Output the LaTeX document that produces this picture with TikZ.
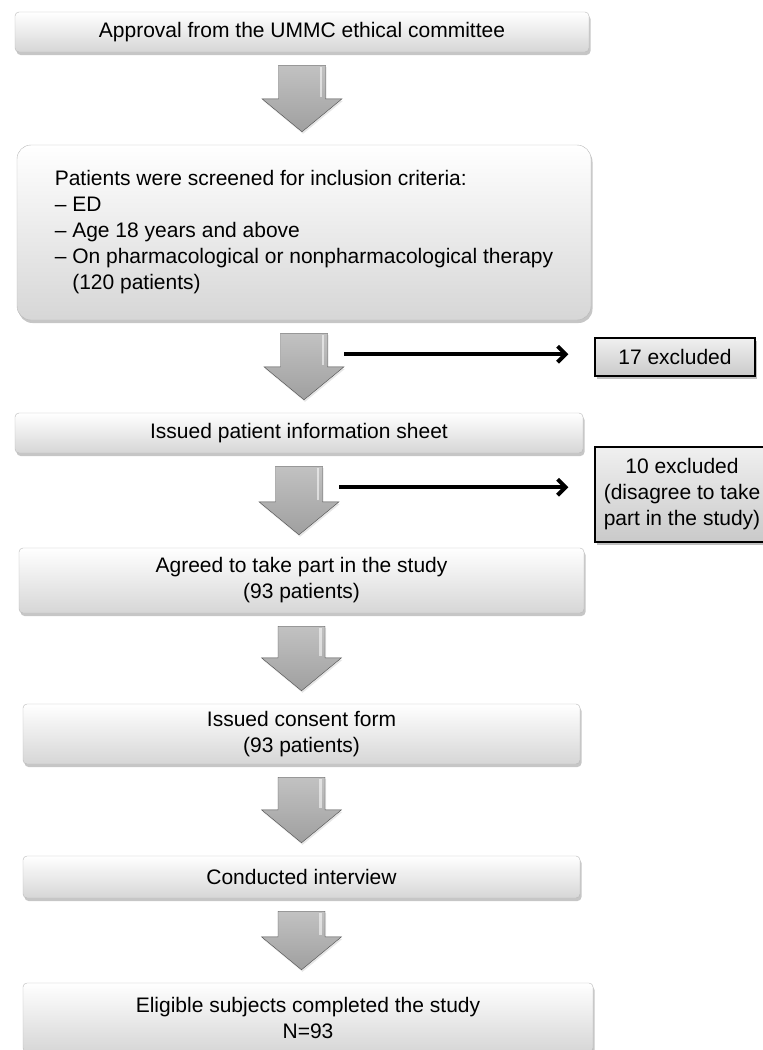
\documentclass[tikz,border=0pt]{standalone}
\usepackage{fontspec}
\setmainfont{Liberation Sans}
\usepackage{tikz}
\usetikzlibrary{arrows.meta,calc,shadows}

% grey block arrow between two boxes, #3 names its coordinates
\newcommand\blockdown[3]{%
  \coordinate (#3-top) at ($(#1.south)+(0,13)$);
  \coordinate (#3-tip) at ($(#1.south |- #2.north)+(0,-13)$);
  \path[blockarrow] ($(#3-top)+(-23.5,0)$) -- ($(#3-top)+(23.5,0)$)
    -- ($(#3-tip)+(23.5,-33)$) -- ($(#3-tip)+(40,-33)$) -- (#3-tip)
    -- ($(#3-tip)+(-40,-33)$) -- ($(#3-tip)+(-23.5,-33)$) -- cycle;
  \draw[white, opacity=.55, line width=2.5pt] ($(#3-top)+(19,2)$) -- ($(#3-tip)+(19,-35)$);
  \coordinate (#3-out) at ($(#3-top)+(40,21)$);
}

\begin{document}
\begin{tikzpicture}[x=1pt, y=-1pt,
  txt/.style={font=\fontsize{21}{26}\selectfont, align=center, inner sep=0pt},
  box/.style={txt, draw=gray!55, rounded corners=4pt, top color=white, bottom color=gray!32,
    drop shadow={shadow xshift=1.5pt, shadow yshift=-3pt, opacity=.45}},
  exbox/.style={txt, draw=black, line width=1.2pt, top color=gray!12, bottom color=gray!42,
    drop shadow={shadow xshift=2pt, shadow yshift=-2.5pt, opacity=.5}},
  blockarrow/.style={draw=gray!60!black, line width=.4pt, top color=gray!48, bottom color=gray!75,
    drop shadow={shadow xshift=1pt, shadow yshift=-2pt, opacity=.2}},
  exarrow/.style={line width=4pt, -{Straight Barb[length=8pt,width=16pt,line width=4pt]}, shorten >=26pt},
]
\useasboundingbox (0,0) rectangle (763,1050);

\node[box, minimum width=574pt, minimum height=40pt] (b1) at (302,32) {Approval from the UMMC ethical committee};
\node[box, rounded corners=14pt, align=left, minimum width=574pt, minimum height=175pt] (b2) at (304,232.5)
  {Patients were screened for inclusion criteria:\\– ED\\– Age 18 years and above\\– On pharmacological or nonpharmacological therapy\\\phantom{– }(120 patients)};
\node[box, minimum width=568pt, minimum height=40pt] (b3) at (299,433) {Issued patient information sheet};
\node[box, minimum width=565pt, minimum height=65pt] (b4) at (301.5,580.5) {Agreed to take part in the study\\(93 patients)};
\node[box, minimum width=557pt, minimum height=60pt] (b5) at (301.5,734) {Issued consent form\\(93 patients)};
\node[box, minimum width=557pt, minimum height=42pt] (b6) at (301.5,877) {Conducted interview};
\node[box, minimum width=570pt, minimum height=69pt] (b7) at (308,1017.5) {Eligible subjects completed the study\\N=93};

\node[exbox, minimum width=160pt, minimum height=38pt] (ex1) at (675,357) {17 excluded};
\node[exbox, minimum width=174pt, minimum height=95pt] (ex2) at (682,494.5) {10 excluded\\(disagree to take\\part in the study)};

\blockdown{b1}{b2}{a1}
\blockdown{b2}{b3}{a2}
\blockdown{b3}{b4}{a3}
\blockdown{b4}{b5}{a4}
\blockdown{b5}{b6}{a5}
\blockdown{b6}{b7}{a6}

\draw[exarrow] (a2-out) -- (a2-out -| ex1.west);
\draw[exarrow] (a3-out) -- (a3-out -| ex2.west);
\end{tikzpicture}
\end{document}
